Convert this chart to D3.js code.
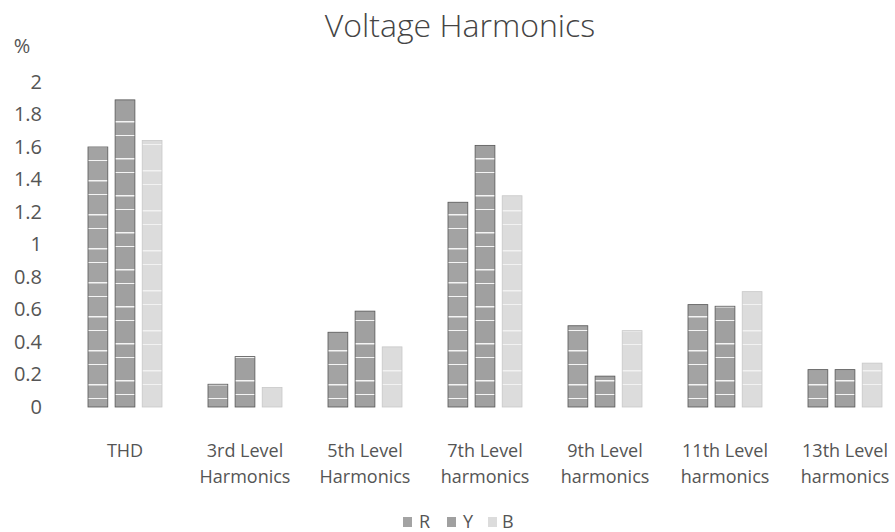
<!DOCTYPE html>
<html lang="en">
<head>
  <meta charset="UTF-8">
  <title>Voltage Harmonics</title>
  <script src="https://cdn.jsdelivr.net/npm/d3@7/dist/d3.min.js"></script>
  <style>
    * { margin: 0; padding: 0; }
    body { background: #fff; }
    svg { display: block; font-family: "Open Sans", "Noto Sans", sans-serif; }
  </style>
</head>
<body>
  <div id="chart"></div>
  <script>
  // data
  var categories = [["THD"], ["3rd Level", "Harmonics"], ["5th Level", "Harmonics"],
    ["7th Level", "harmonics"], ["9th Level", "harmonics"], ["11th Level", "harmonics"],
    ["13th Level", "harmonics"]];
  var seriesNames = ["R", "Y", "B"];
  var R = [1.60, 0.14, 0.46, 1.26, 0.50, 0.63, 0.23];
  var Y = [1.89, 0.31, 0.59, 1.61, 0.19, 0.62, 0.23];
  var B = [1.64, 0.12, 0.37, 1.30, 0.47, 0.71, 0.27];
  var yTicks = [0, 0.2, 0.4, 0.6, 0.8, 1, 1.2, 1.4, 1.6, 1.8, 2];

  var width = 895, height = 532;
  var svg = d3.select("#chart").append("svg")
    .attr("width", width)
    .attr("height", height);

  // textured fills, like the scanned bars
  var defs = svg.append("defs");
  var fills = [
    { id: "pR", base: "#a3a3a3", line: "#f4f4f4", edge: "#555" },
    { id: "pY", base: "#a0a0a0", line: "#f4f4f4", edge: "#555" },
    { id: "pB", base: "#dcdcdc", line: "#f2f2f2", edge: "#c8c8c8" }
  ];
  fills.forEach(function (f, i) {
    var p = defs.append("pattern")
      .attr("id", f.id)
      .attr("patternUnits", "userSpaceOnUse")
      .attr("width", 20).attr("height", 34 + i * 3);
    p.append("rect").attr("width", 20).attr("height", 40).attr("fill", f.base);
    p.append("rect").attr("y", 10).attr("width", 20).attr("height", 1.5).attr("fill", f.line);
    p.append("rect").attr("y", 24).attr("width", 20).attr("height", 1).attr("fill", f.line);
  });

  var x0 = d3.scaleBand()
    .domain(d3.range(categories.length))
    .range([65, 905]);

  var x1 = d3.scaleBand()
    .domain(seriesNames)
    .range([x0.bandwidth() / 2 - 37, x0.bandwidth() / 2 + 37])
    .paddingInner(0.27);

  var y = d3.scaleLinear()
    .domain([0, 2])
    .range([407, 82]);

  // title
  svg.append("text")
    .attr("x", 460).attr("y", 37)
    .attr("text-anchor", "middle")
    .attr("fill", "#444")
    .style("font-size", "32px")
    .style("font-weight", 300)
    .text("Voltage Harmonics");

  // y axis labels, no line
  var yAxis = svg.append("g")
    .attr("transform", "translate(42,0)")
    .call(d3.axisLeft(y).tickValues(yTicks).tickSize(0).tickPadding(0)
      .tickFormat(function (d) { return String(d); }));
  yAxis.select(".domain").remove();
  yAxis.selectAll("text")
    .attr("fill", "#555")
    .style("font-size", "20px")
    .style("font-family", "'Open Sans', sans-serif");

  svg.append("text")
    .attr("x", 22).attr("y", 53)
    .attr("text-anchor", "middle")
    .attr("fill", "#555")
    .style("font-size", "20px")
    .text("%");

  // bars
  var series = [R, Y, B];
  var groups = svg.selectAll(".grp")
    .data(categories)
    .enter().append("g")
    .attr("class", "grp")
    .attr("transform", function (d, i) { return "translate(" + x0(i) + ",0)"; });

  groups.selectAll("rect")
    .data(function (d, i) {
      return seriesNames.map(function (s, k) { return { s: s, k: k, v: series[k][i] }; });
    })
    .enter().append("rect")
    .attr("x", function (d) { return x1(d.s); })
    .attr("y", function (d) { return y(d.v); })
    .attr("width", x1.bandwidth())
    .attr("height", function (d) { return y(0) - y(d.v); })
    .attr("fill", function (d) { return "url(#" + fills[d.k].id + ")"; })
    .attr("stroke", function (d) { return fills[d.k].edge; })
    .attr("stroke-width", 0.8);

  // category labels
  groups.append("text")
    .attr("x", x0.bandwidth() / 2)
    .attr("text-anchor", "middle")
    .attr("fill", "#555")
    .style("font-size", "18px")
    .selectAll("tspan")
    .data(function (d) { return d; })
    .enter().append("tspan")
    .attr("x", x0.bandwidth() / 2)
    .attr("y", function (d, i) { return 457 + i * 26; })
    .text(function (d) { return d; });

  // legend
  var legX = [403, 447, 488];
  var legend = svg.selectAll(".leg")
    .data(seriesNames)
    .enter().append("g")
    .attr("class", "leg")
    .attr("transform", function (d, i) { return "translate(" + legX[i] + ",517)"; });
  legend.append("rect")
    .attr("width", 9).attr("height", 10)
    .attr("fill", function (d, i) { return "url(#" + fills[i].id + ")"; });
  legend.append("text")
    .attr("x", function (d, i) { return i === 2 ? 14 : 16; })
    .attr("y", 11)
    .attr("fill", "#555")
    .style("font-size", "18px")
    .text(function (d) { return d; });
  </script>
</body>
</html>
